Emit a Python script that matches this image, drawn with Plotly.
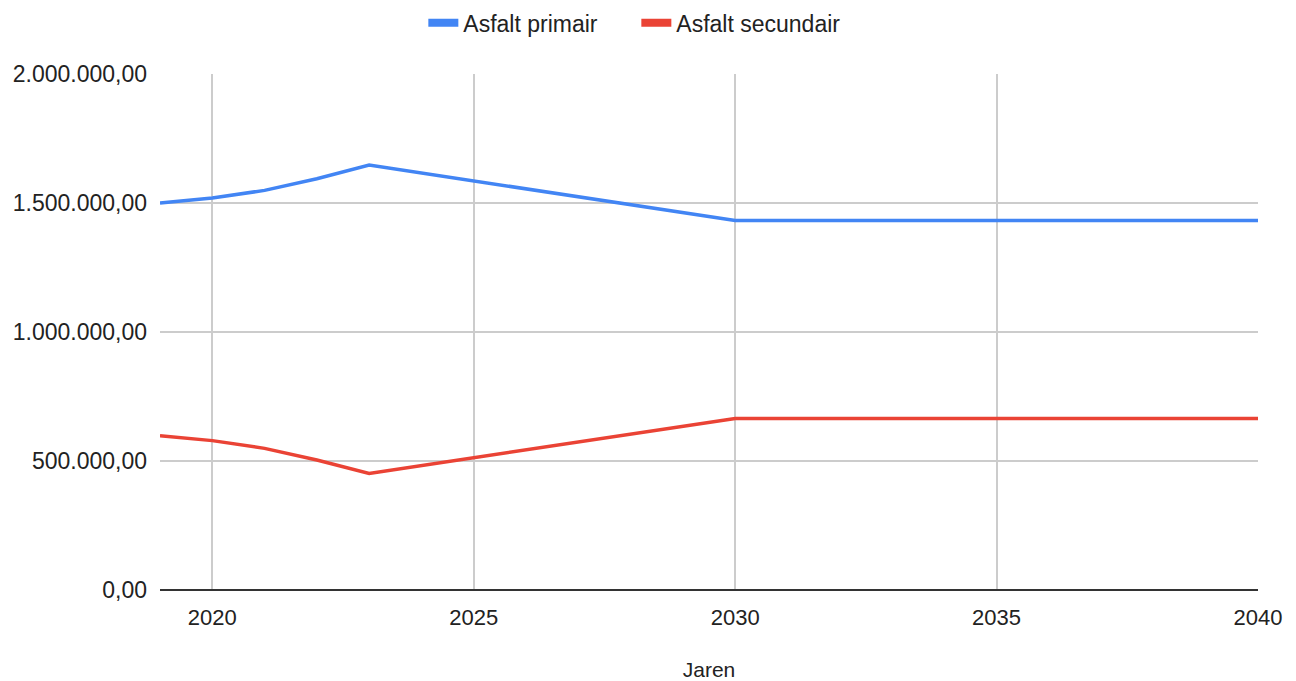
import plotly.graph_objects as go

# Jaarlijkse hoeveelheden asfalt (knikpunten van de reeksen)
jaren = [2019, 2020, 2021, 2022, 2023, 2030, 2035, 2040]
asfalt_primair = [1500000, 1519000, 1549000, 1594000, 1647000, 1432000, 1432000, 1432000]
asfalt_secundair = [598000, 579000, 549000, 504000, 452000, 665000, 665000, 665000]

series_names = ["Asfalt primair", "Asfalt secundair"]
series_colors = ["#4285F4", "#EA4335"]

x_ticks = [2020, 2025, 2030, 2035, 2040]
y_ticks = [0, 500000, 1000000, 1500000, 2000000]

font_family = "Liberation Sans, Arial, sans-serif"
text_color = "#222222"

fig = go.Figure()
for name, values, color in zip(series_names, [asfalt_primair, asfalt_secundair], series_colors):
    # data line
    fig.add_trace(go.Scatter(
        x=jaren, y=values, mode="lines", name=name, legendgroup=name,
        line=dict(color=color, width=3.5), showlegend=False,
    ))
    # legend entry with a thick, short swatch
    fig.add_trace(go.Scatter(
        x=[None], y=[None], mode="lines", name=name, legendgroup=name,
        line=dict(color=color, width=8), showlegend=True, hoverinfo="skip",
    ))

fig.update_layout(
    width=1296, height=681,
    margin=dict(l=160, r=38, t=74, b=91),
    paper_bgcolor="white", plot_bgcolor="white",
    separators=",.",
    font=dict(family=font_family, size=22, color=text_color),
    showlegend=True,
    legend=dict(
        orientation="h", x=0.491, xanchor="center", xref="container",
        y=0.998, yanchor="top", yref="container",
        font=dict(size=23, color=text_color),
        itemwidth=30, tracegroupgap=0,
        entrywidth=168, entrywidthmode="pixels",
    ),
    xaxis=dict(
        range=[2019, 2040], tickvals=x_ticks, ticktext=[str(t) for t in x_ticks],
        showgrid=True, gridcolor="#cccccc", gridwidth=1.5,
        zeroline=False, showline=False, ticks="", ticklabelstandoff=12,
        tickfont=dict(size=22, color=text_color), automargin=False,
        title=dict(text="Jaren", font=dict(size=21, color=text_color), standoff=40),
    ),
    yaxis=dict(
        range=[0, 2000000], tickvals=y_ticks, tickformat=",.2f",
        showgrid=True, gridcolor="#cccccc", gridwidth=1.5,
        zeroline=True, zerolinecolor="#333333", zerolinewidth=2,
        showline=False, ticks="", ticklabelstandoff=12, automargin=False,
        tickfont=dict(size=23, color=text_color),
    ),
)

fig.write_html("out.html")
